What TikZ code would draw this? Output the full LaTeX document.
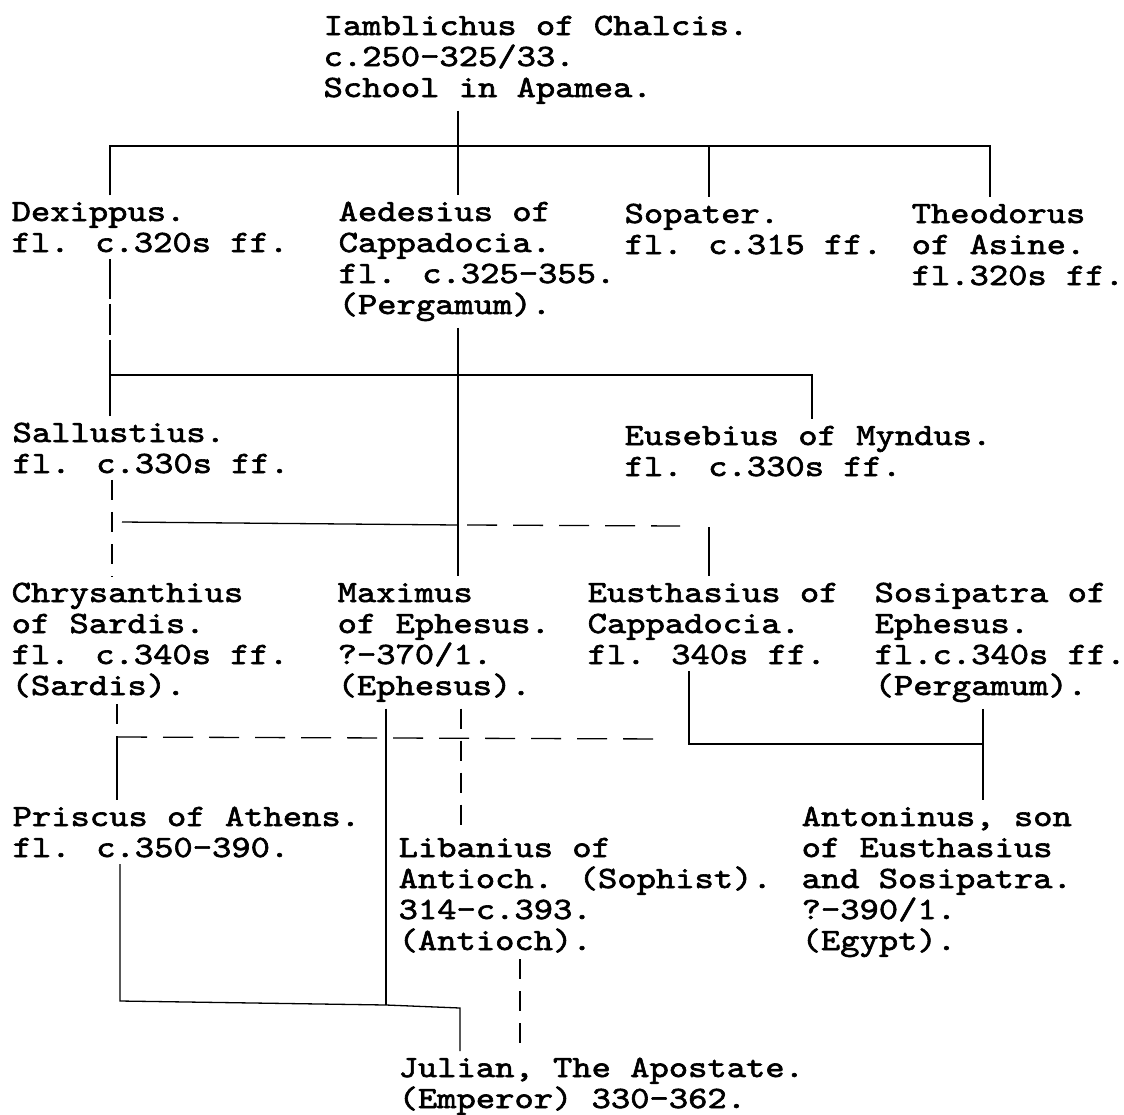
\documentclass[tikz,border=0pt]{standalone}
\usepackage{fontspec}
\newfontfamily\typefont{lmmono10-regular.otf}[FakeStretch=1.186, FakeBold=2]
\newcommand\typewriter{\typefont\fontsize{31}{31}\selectfont}
\begin{document}
\begin{tikzpicture}[x=1pt, y=-1pt, line width=1.3pt,
  person/.style={anchor=base west, align=left, inner xsep=0pt, inner ysep=6pt,
    font=\typewriter},
  broken/.style={dash pattern=on 20pt off 12pt},
  gapped/.style={dash pattern=on 30pt off 16pt}]
\useasboundingbox (0,0) rectangle (1124,1114);

% the scholars (placed by their last line)
\node [person] (iamb) at (323,97) {Iamblichus of Chalcis.\\c.250-325/33.\\School in Apamea.};
\node [person] (dex) at (11,252) {Dexippus.\\fl. c.320s ff.};
\node [person] (aed) at (338,314) {Aedesius of\\Cappadocia.\\fl. c.325-355.\\(Pergamum).};
\node [person] (sop) at (624,254) {Sopater.\\fl. c.315 ff.};
\node [person] (theo) at (911,285) {Theodorus\\of Asine.\\fl.320s ff.};
\node [person] (sal) at (12,473) {Sallustius.\\fl. c.330s ff.};
\node [person] (eus) at (624,476) {Eusebius of Myndus.\\fl. c.330s ff.};
\node [person] (chr) at (11,695) {Chrysanthius\\of Sardis.\\fl. c.340s ff.\\(Sardis).};
\node [person] (max) at (337,695) {Maximus\\of Ephesus.\\?-370/1.\\(Ephesus).};
\node [person] (eust) at (587,664) {Eusthasius of\\Cappadocia.\\fl. 340s ff.};
\node [person] (sos) at (874,695) {Sosipatra of\\Ephesus.\\fl.c.340s ff.\\(Pergamum).};
\node [person] (pri) at (12,857) {Priscus of Athens.\\fl. c.350-390.};
\node [person] (lib) at (398,950) {Libanius of\\Antioch. (Sophist).\\314-c.393.\\(Antioch).};
\node [person] (ant) at (801,950) {Antoninus, son\\of Eusthasius\\and Sosipatra.\\?-390/1.\\(Egypt).};
\node [person] (jul) at (398,1108) {Julian, The Apostate.\\(Emperor) 330-362.};

% first pupils
\coordinate (tDex) at (110,146);
\coordinate (tAed) at (458,146);
\coordinate (tSop) at (709,146);
\coordinate (tTheo) at (990,146);
\draw (iamb.south -| tAed) -- (aed.north -| tAed);
\draw (dex.north -| tDex) |- (tTheo) -- (theo.north -| tTheo);
\draw (tSop) -- (sop.north -| tSop);

% next pupils
\coordinate (mDex) at (110,375);
\coordinate (mEus) at (812,375);
\draw [dash pattern=on 40pt off 5pt on 31pt off 5pt] (dex.south -| mDex) -- (mDex);
\draw (sal.north -| mDex) |- (mEus) -- (eus.north -| mEus);
\draw (aed.south -| tAed) -- (max.north -| tAed);

\coordinate (sCol) at (112,524);
\coordinate (sLeft) at (122,522);
\coordinate (sMid) at (458,525);
\coordinate (sGap) at (467,525);
\coordinate (sEnd) at (680,526);
\coordinate (sEust) at (709,527);
\draw [broken] (sal.south -| sCol) -- (chr.north -| sCol);
\draw (sLeft) -- (sMid);
\draw [gapped] (sGap) -- (sEnd);
\draw (sEust) -- (eust.north -| sEust);

% last generation
\coordinate (cChr) at (117,737);
\coordinate (cEnd) at (668,739);
\coordinate (cEust) at (689,742);
\coordinate (cSos) at (983,744);
\draw [broken] (chr.south -| cChr) -- (cChr);
\draw (cChr) -- (pri.north -| cChr);
\draw [gapped] (cChr) -- (cEnd);
\draw (eust.south -| cEust) |- (cSos);
\draw (sos.south -| cSos) -- (ant.north -| cSos);

\coordinate (lCol) at (461,740);
\coordinate (jCol) at (520,1000);
\draw [broken] (max.south -| lCol) -- (lib.north -| lCol);
\draw [broken] (lib.south -| jCol) -- (jul.north -| jCol);

\coordinate (bPri) at (120,1001);
\coordinate (bMax) at (386,1005);
\coordinate (bJul) at (460,1008);
\draw (max.south -| bMax) -- (bMax);
\draw (pri.south -| bPri) -- (bPri) -- (bMax) -- (bJul) -- (jul.north -| bJul);
\end{tikzpicture}
\end{document}
